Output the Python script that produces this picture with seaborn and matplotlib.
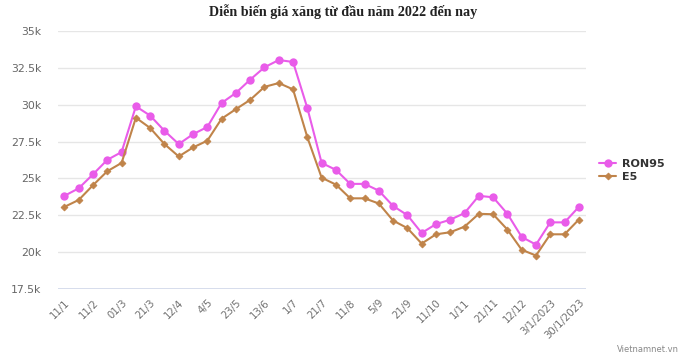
import numpy as np
import pandas as pd
import matplotlib
matplotlib.use("Agg")
import matplotlib.pyplot as plt
import seaborn as sns
from matplotlib.ticker import FuncFormatter

# price adjustment dates (every other one is labelled on the axis)
dates = ["11/1", "26/1", "11/2", "21/2", "01/3", "11/3", "21/3", "1/4", "12/4", "25/4",
         "4/5", "11/5", "23/5", "1/6", "13/6", "21/6", "1/7", "11/7", "21/7", "1/8",
         "11/8", "22/8", "5/9", "12/9", "21/9", "3/10", "11/10", "21/10", "1/11", "11/11",
         "21/11", "1/12", "12/12", "21/12", "3/1/2023", "17/1/2023", "30/1/2023"]

ron95 = [23820, 24330, 25280, 26260, 26790, 29890, 29260, 28230, 27330, 28000,
         28490, 30120, 30800, 31700, 32540, 33030, 32900, 29770, 26050, 25580,
         24630, 24630, 24170, 23130, 22510, 21300, 21900, 22200, 22650, 23820,
         23720, 22600, 21030, 20510, 22020, 22020, 23070]

e5 = [23070, 23540, 24540, 25490, 26050, 29120, 28420, 27330, 26490, 27100,
      27560, 29050, 29700, 30330, 31210, 31470, 31040, 27790, 25050, 24580,
      23650, 23650, 23300, 22140, 21630, 20580, 21210, 21350, 21730, 22600,
      22570, 21530, 20160, 19770, 21210, 21210, 22210]

y_ticks = [17500, 20000, 22500, 25000, 27500, 30000, 32500, 35000]

df = pd.DataFrame({"pos": np.arange(len(dates)), "date": dates, "RON95": ron95, "E5": e5})

sns.set_theme(style="white")
plt.rcParams["font.family"] = ["DejaVu Sans"]

fig = plt.figure(figsize=(6.86, 3.6), dpi=100)
ax = fig.add_axes([58 / 686, 1 - 289 / 360, (586 - 58) / 686, (289 - 31) / 360])

sns.lineplot(data=df, x="pos", y="RON95", ax=ax, color="#e95ce9", linewidth=1.5,
             marker="o", markersize=6, markeredgewidth=0, label="RON95")
sns.lineplot(data=df, x="pos", y="E5", ax=ax, color="#c0844a", linewidth=1.5,
             marker="D", markersize=3.5, markeredgewidth=0.6, markeredgecolor="#c0844a", label="E5")

ax.set_xlim(-0.45, len(dates) - 0.5)
ax.set_ylim(17500, 35000)
ax.set_yticks(y_ticks)
ax.yaxis.set_major_formatter(FuncFormatter(lambda v, p: f"{v / 1000:g}k"))
ax.yaxis.grid(True, color="#e6e6e6", linewidth=1)
ax.axhline(17500, color="#ccd6eb", linewidth=1.2, zorder=0)

ax.set_xticks(df["pos"][::2])
ax.set_xticklabels(df["date"][::2], rotation=45, ha="right", rotation_mode="anchor")
ax.tick_params(axis="x", length=0, pad=6, labelsize=7.3, labelcolor="#707070")
ax.tick_params(axis="y", length=0, pad=12, labelsize=7.8, labelcolor="#666666")

ax.set_xlabel("")
ax.set_ylabel("")
sns.despine(ax=ax, left=True, bottom=True, top=True, right=True)

ax.legend(loc="center left", bbox_to_anchor=(1.005, 0.46), frameon=False,
          fontsize=8, handlelength=1.6, handletextpad=0.5, labelspacing=0.3)
for t in ax.get_legend().get_texts():
    t.set_color("#333333")
    t.set_fontweight("semibold")

fig.text(0.5, 1 - 12 / 360, "Diễn biến giá xăng từ đầu năm 2022 đến nay", ha="center", va="center",
         fontsize=10.2, fontweight="bold", family=["Liberation Serif", "DejaVu Serif"], color="#222222")
fig.text(0.99, 1 - 349 / 360, "Vietnamnet.vn", ha="right", va="center", fontsize=6, color="#888888")

fig.savefig("out.png", dpi=100)
